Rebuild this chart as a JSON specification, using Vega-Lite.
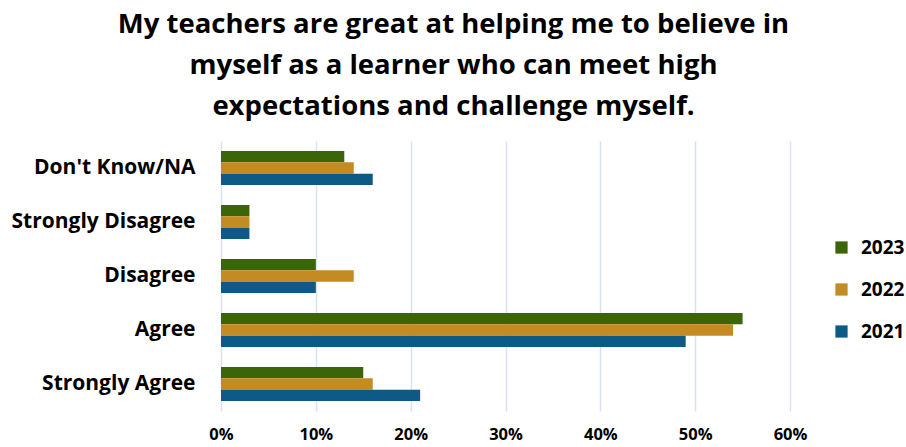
{
  "$schema": "https://vega.github.io/schema/vega-lite/v6.json",
  "width": 569,
  "height": 270,
  "autosize": {"type": "none"},
  "padding": {"left": 221, "top": 141, "right": 116, "bottom": 36},
  "background": "white",
  "title": {
    "text": ["My teachers are great at helping me to believe in", "myself as a learner who can meet high", "expectations and challenge myself."],
    "font": "Open Sans",
    "fontSize": 27.5,
    "fontWeight": "bold",
    "color": "#000000",
    "lineHeight": 41,
    "anchor": "middle",
    "dx": -52,
    "offset": 21
  },
  "data": {
    "values": [
      {"response": "Don't Know/NA", "year": "2023", "pct": 0.13},
      {"response": "Don't Know/NA", "year": "2022", "pct": 0.14},
      {"response": "Don't Know/NA", "year": "2021", "pct": 0.16},
      {"response": "Strongly Disagree", "year": "2023", "pct": 0.03},
      {"response": "Strongly Disagree", "year": "2022", "pct": 0.03},
      {"response": "Strongly Disagree", "year": "2021", "pct": 0.03},
      {"response": "Disagree", "year": "2023", "pct": 0.10},
      {"response": "Disagree", "year": "2022", "pct": 0.14},
      {"response": "Disagree", "year": "2021", "pct": 0.10},
      {"response": "Agree", "year": "2023", "pct": 0.55},
      {"response": "Agree", "year": "2022", "pct": 0.54},
      {"response": "Agree", "year": "2021", "pct": 0.49},
      {"response": "Strongly Agree", "year": "2023", "pct": 0.15},
      {"response": "Strongly Agree", "year": "2022", "pct": 0.16},
      {"response": "Strongly Agree", "year": "2021", "pct": 0.21}
    ]
  },
  "mark": {"type": "bar", "stroke": null},
  "encoding": {
    "y": {
      "field": "response",
      "type": "nominal",
      "sort": ["Don't Know/NA", "Strongly Disagree", "Disagree", "Agree", "Strongly Agree"],
      "scale": {"paddingInner": 0.37, "paddingOuter": 0.185},
      "axis": {
        "title": null,
        "domain": false,
        "ticks": false,
        "labelFont": "Open Sans",
        "labelFontSize": 21,
        "labelFontWeight": "bold",
        "labelColor": "#000000",
        "labelPadding": 26,
        "labelLimit": 300
      }
    },
    "yOffset": {
      "field": "year",
      "type": "nominal",
      "sort": ["2023", "2022", "2021"],
      "scale": {"paddingInner": 0, "paddingOuter": 0}
    },
    "x": {
      "field": "pct",
      "type": "quantitative",
      "scale": {"domain": [0, 0.6], "nice": false},
      "axis": {
        "title": null,
        "format": ".0%",
        "values": [0, 0.1, 0.2, 0.3, 0.4, 0.5, 0.6],
        "domain": false,
        "ticks": false,
        "grid": true,
        "gridColor": "#D9E3F0",
        "gridWidth": 1.5,
        "labelFlush": false,
        "labelFont": "Open Sans",
        "labelFontSize": 16.5,
        "labelFontWeight": "bold",
        "labelColor": "#000000",
        "labelPadding": 15
      }
    },
    "color": {
      "field": "year",
      "type": "nominal",
      "scale": {"domain": ["2023", "2022", "2021"], "range": ["#3B6506", "#C48B22", "#0E5A87"]},
      "legend": {
        "title": null,
        "orient": "none",
        "legendX": 611,
        "legendY": 97,
        "symbolType": "square",
        "symbolSize": 150,
        "symbolStrokeWidth": 0,
        "labelFont": "Open Sans",
        "labelFontSize": 19,
        "labelFontWeight": "bold",
        "labelColor": "#000000",
        "labelOffset": 10,
        "rowPadding": 22
      }
    }
  },
  "config": {"view": {"stroke": null}}
}
